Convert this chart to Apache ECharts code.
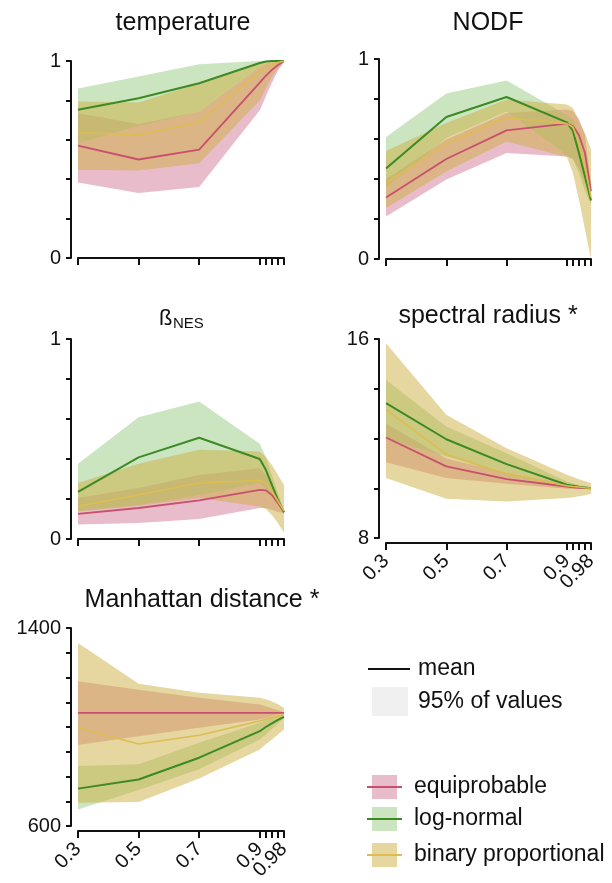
<!DOCTYPE html>
<html>
<head>
<meta charset="utf-8">
<script src="https://cdn.jsdelivr.net/npm/echarts@6/dist/echarts.min.js"></script>
<style>
  html, body { margin: 0; padding: 0; background: #fff; }
  #chart-container { width: 612px; height: 883px; }
</style>
</head>
<body>
<div id="chart-container"></div>
<script>
// connectance values on the x axis
var xValues = [0.3, 0.5, 0.7, 0.9, 0.92, 0.94, 0.96, 0.98];
var xTickValues = [0.3, 0.5, 0.7, 0.9, 0.92, 0.94, 0.96, 0.98];
var xLabelValues = [0.3, 0.5, 0.7, 0.9];
var xEndLabelValues = [0.98];
var modelNames = ["equiprobable", "log-normal", "binary proportional"];

// temperature
var tempEquiMean = [0.57, 0.50, 0.55, 0.89, 0.925, 0.955, 0.98, 1.0];
var tempEquiLo = [0.383, 0.33, 0.36, 0.75, 0.82, 0.89, 0.95, 0.995];
var tempEquiHi = [0.735, 0.68, 0.743, 0.97, 0.985, 0.995, 1.0, 1.0];
var tempLognMean = [0.752, 0.811, 0.887, 0.99, 0.997, 1.0, 1.0, 1.0];
var tempLognLo = [0.583, 0.671, 0.743, 0.97, 0.985, 0.995, 1.0, 1.0];
var tempLognHi = [0.861, 0.921, 0.983, 1.0, 1.0, 1.0, 1.0, 1.0];
var tempBinMean = [0.637, 0.625, 0.689, 0.946, 0.965, 0.98, 0.992, 1.0];
var tempBinLo = [0.448, 0.444, 0.481, 0.80, 0.86, 0.92, 0.965, 0.995];
var tempBinHi = [0.794, 0.789, 0.887, 0.99, 0.997, 1.0, 1.0, 1.0];

// NODF
var nodfEquiMean = [0.308, 0.50, 0.643, 0.677, 0.665, 0.62, 0.53, 0.338];
var nodfEquiLo = [0.213, 0.397, 0.53, 0.513, 0.50, 0.45, 0.38, 0.30];
var nodfEquiHi = [0.40, 0.597, 0.73, 0.747, 0.74, 0.70, 0.62, 0.38];
var nodfLognMean = [0.452, 0.71, 0.81, 0.683, 0.64, 0.53, 0.413, 0.292];
var nodfLognLo = [0.36, 0.605, 0.738, 0.52, 0.50, 0.43, 0.34, 0.27];
var nodfLognHi = [0.61, 0.827, 0.892, 0.72, 0.70, 0.62, 0.48, 0.31];
var nodfBinMean = [0.38, 0.577, 0.707, 0.677, 0.66, 0.58, 0.46, 0.31];
var nodfBinLo = [0.255, 0.438, 0.588, 0.51, 0.43, 0.297, 0.147, 0.0];
var nodfBinHi = [0.54, 0.68, 0.797, 0.772, 0.755, 0.688, 0.63, 0.547];

// beta NES
var nesEquiMean = [0.126, 0.155, 0.193, 0.246, 0.243, 0.22, 0.18, 0.135];
var nesEquiLo = [0.072, 0.08, 0.10, 0.155, 0.155, 0.145, 0.135, 0.13];
var nesEquiHi = [0.205, 0.255, 0.32, 0.354, 0.32, 0.27, 0.21, 0.14];
var nesLognMean = [0.236, 0.408, 0.506, 0.40, 0.346, 0.271, 0.196, 0.133];
var nesLognLo = [0.14, 0.17, 0.22, 0.28, 0.25, 0.21, 0.17, 0.13];
var nesLognHi = [0.376, 0.609, 0.687, 0.476, 0.41, 0.32, 0.23, 0.14];
var nesBinMean = [0.163, 0.221, 0.28, 0.293, 0.28, 0.24, 0.19, 0.14];
var nesBinLo = [0.138, 0.166, 0.205, 0.163, 0.15, 0.12, 0.08, 0.03];
var nesBinHi = [0.28, 0.376, 0.446, 0.438, 0.41, 0.37, 0.32, 0.27];

// spectral radius
var specEquiMean = [12.04, 10.88, 10.37, 10.07, 10.04, 10.02, 10.01, 10.0];
var specEquiLo = [11.05, 10.41, 10.18, 9.98, 9.98, 9.98, 9.99, 9.99];
var specEquiHi = [12.6, 11.2, 10.61, 10.16, 10.12, 10.08, 10.04, 10.01];
var specLognMean = [13.42, 11.97, 10.97, 10.14, 10.10, 10.06, 10.03, 10.0];
var specLognLo = [12.0, 11.28, 10.54, 10.05, 10.03, 10.01, 10.0, 9.99];
var specLognHi = [14.35, 12.48, 11.41, 10.27, 10.2, 10.13, 10.07, 10.01];
var specBinMean = [13.15, 11.37, 10.57, 10.10, 10.07, 10.05, 10.02, 10.0];
var specBinLo = [10.41, 9.58, 9.47, 9.61, 9.64, 9.68, 9.72, 9.78];
var specBinHi = [15.83, 12.95, 11.61, 10.54, 10.45, 10.36, 10.28, 10.2];

// Manhattan distance
var manEquiMean = [1057, 1057, 1057, 1057, 1057, 1057, 1057, 1057];
var manEquiLo = [927, 963, 997, 1030, 1036, 1043, 1050, 1056];
var manEquiHi = [1185, 1151, 1118, 1091, 1084, 1076, 1068, 1060];
var manLognMean = [751, 788, 876, 983, 1000, 1015, 1029, 1041];
var manLognLo = [667, 745, 829, 950, 970, 992, 1013, 1036];
var manLognHi = [842, 849, 936, 1017, 1028, 1036, 1043, 1048];
var manBinMean = [997, 931, 967, 1024, 1031, 1038, 1044, 1050];
var manBinLo = [694, 697, 792, 909, 930, 950, 970, 990];
var manBinHi = [1339, 1175, 1138, 1118, 1112, 1103, 1092, 1077];

var lineColors = ["#c8506e", "#3b8a24", "#dcbd52"];
var bandColors = ["#d17997", "#97cb83", "#cdad41"];
var lineWidths = [1.8, 2, 1.6];
var FONT = "Liberation Sans, Arial, sans-serif";

var panels = [
  { grid: { left: 78, top: 61, width: 206, height: 197 }, min: 0, max: 1, interval: 0.2, xLabels: false,
    mean: [tempEquiMean, tempLognMean, tempBinMean], lo: [tempEquiLo, tempLognLo, tempBinLo], hi: [tempEquiHi, tempLognHi, tempBinHi] },
  { grid: { left: 386, top: 59, width: 205, height: 200 }, min: 0, max: 1, interval: 0.2, xLabels: false,
    mean: [nodfEquiMean, nodfLognMean, nodfBinMean], lo: [nodfEquiLo, nodfLognLo, nodfBinLo], hi: [nodfEquiHi, nodfLognHi, nodfBinHi] },
  { grid: { left: 78, top: 339, width: 206, height: 200 }, min: 0, max: 1, interval: 0.2, xLabels: false,
    mean: [nesEquiMean, nesLognMean, nesBinMean], lo: [nesEquiLo, nesLognLo, nesBinLo], hi: [nesEquiHi, nesLognHi, nesBinHi] },
  { grid: { left: 386, top: 339, width: 205, height: 199 }, min: 8, max: 16, interval: 2, xLabels: true,
    mean: [specEquiMean, specLognMean, specBinMean], lo: [specEquiLo, specLognLo, specBinLo], hi: [specEquiHi, specLognHi, specBinHi] },
  { grid: { left: 78, top: 628, width: 206, height: 198 }, min: 600, max: 1400, interval: 100, xLabels: true,
    mean: [manEquiMean, manLognMean, manBinMean], lo: [manEquiLo, manLognLo, manBinLo], hi: [manEquiHi, manLognHi, manBinHi] }
];

function pairs(arr) {
  return xValues.map(function (x, i) { return [x, arr[i]]; });
}

// band polygon between lo and hi, drawn once through the axis scales
function bandRenderer(lo, hi, color) {
  return function (params, api) {
    if (params.dataIndex !== 0) return null;
    var pts = [];
    for (var i = 0; i < xValues.length; i++) pts.push(api.coord([xValues[i], hi[i]]));
    for (var j = xValues.length - 1; j >= 0; j--) pts.push(api.coord([xValues[j], lo[j]]));
    return { type: "polygon", shape: { points: pts }, style: { fill: color, opacity: 0.5 } };
  };
}

var grids = [], xAxes = [], yAxes = [], series = [], extraX = [];
var axisColor = "#111";
var xLabelStyle = { rotate: 45, margin: 15, fontSize: 20, color: axisColor, fontFamily: FONT,
  formatter: function (v) { return String(v); } };

panels.forEach(function (p, gi) {
  grids.push(Object.assign({ containLabel: false, outerBoundsMode: "none" }, p.grid));
  xAxes.push({
    gridIndex: gi, type: "value", position: "bottom", min: 0.3, max: 0.98, offset: 5,
    axisLine: { show: true, lineStyle: { color: axisColor, width: 2 } },
    axisTick: { show: true, customValues: xTickValues, length: 7, lineStyle: { color: axisColor, width: 2 } },
    axisLabel: Object.assign({ show: p.xLabels, customValues: xLabelValues }, xLabelStyle),
    splitLine: { show: false }
  });
  if (p.xLabels) {
    // the 0.98 label sits on its own axis so that it is not dropped for overlapping 0.9
    extraX.push({
      gridIndex: gi, type: "value", position: "bottom", min: 0.3, max: 0.98, offset: 5,
      axisLine: { show: false }, axisTick: { show: false }, splitLine: { show: false },
      axisLabel: Object.assign({ show: true, customValues: xEndLabelValues }, xLabelStyle)
    });
  }
  yAxes.push({
    gridIndex: gi, type: "value", min: p.min, max: p.max, interval: p.interval, offset: 7,
    axisLine: { show: true, lineStyle: { color: axisColor, width: 2 } },
    axisTick: { show: true, length: 5, lineStyle: { color: axisColor, width: 2 } },
    axisLabel: { customValues: [p.min, p.max], margin: 10, fontSize: 20, color: axisColor, fontFamily: FONT,
      formatter: function (v) { return String(v); } },
    splitLine: { show: false }
  });
  for (var m = 0; m < 3; m++) {
    var lo = p.lo[m], hi = p.hi[m];
    series.push({
      type: "custom", xAxisIndex: gi, yAxisIndex: gi, silent: true, z: 1,
      data: xValues.map(function (x, i) { return [x, lo[i], hi[i]]; }),
      encode: { x: 0, y: [1, 2] },
      renderItem: bandRenderer(lo, hi, bandColors[m])
    });
  }
  for (var k = 0; k < 3; k++) {
    series.push({
      name: modelNames[k], type: "line", xAxisIndex: gi, yAxisIndex: gi,
      data: pairs(p.mean[k]), symbol: "none",
      lineStyle: { color: lineColors[k], width: lineWidths[k] }, z: 3
    });
  }
});
xAxes = xAxes.concat(extraX);

var textStyle = function (text, x, y, size, align) {
  return { type: "text", x: x, y: y, style: { text: text, fontSize: size, fontFamily: FONT,
    fill: "#111", align: align || "center", verticalAlign: "middle" } };
};

var graphics = [
  textStyle("temperature", 183, 23, 25),
  textStyle("NODF", 488, 23, 25),
  textStyle("ß", 159, 319, 22, "left"),
  textStyle("NES", 173, 324, 15, "left"),
  textStyle("spectral radius *", 488, 316, 25),
  textStyle("Manhattan distance *", 202, 600, 25),
  // legend: mean / 95%
  { type: "line", shape: { x1: 368, y1: 669, x2: 410, y2: 669 }, style: { stroke: "#111", lineWidth: 2 } },
  textStyle("mean", 418, 669, 23, "left"),
  { type: "rect", shape: { x: 372, y: 687, width: 36, height: 29 }, style: { fill: "#f0f0f0" } },
  textStyle("95% of values", 418, 702, 23, "left")
];
var legendY = [787, 819, 855];
for (var i = 0; i < 3; i++) {
  graphics.push({ type: "rect", shape: { x: 372, y: legendY[i] - 12, width: 25, height: 24 },
    style: { fill: bandColors[i], opacity: 0.5 } });
  graphics.push({ type: "line", shape: { x1: 367, y1: legendY[i], x2: 402, y2: legendY[i] },
    style: { stroke: lineColors[i], lineWidth: 2 } });
  graphics.push(textStyle(modelNames[i], 414, legendY[i], 23, "left"));
}

var dom = document.getElementById("chart-container");
var myChart = echarts.init(dom, null, { renderer: "canvas" });
var option = {
  animation: false,
  backgroundColor: "#fff",
  grid: grids,
  xAxis: xAxes,
  yAxis: yAxes,
  series: series,
  graphic: graphics
};
myChart.setOption(option);
window.addEventListener("resize", myChart.resize);
</script>
</body>
</html>
